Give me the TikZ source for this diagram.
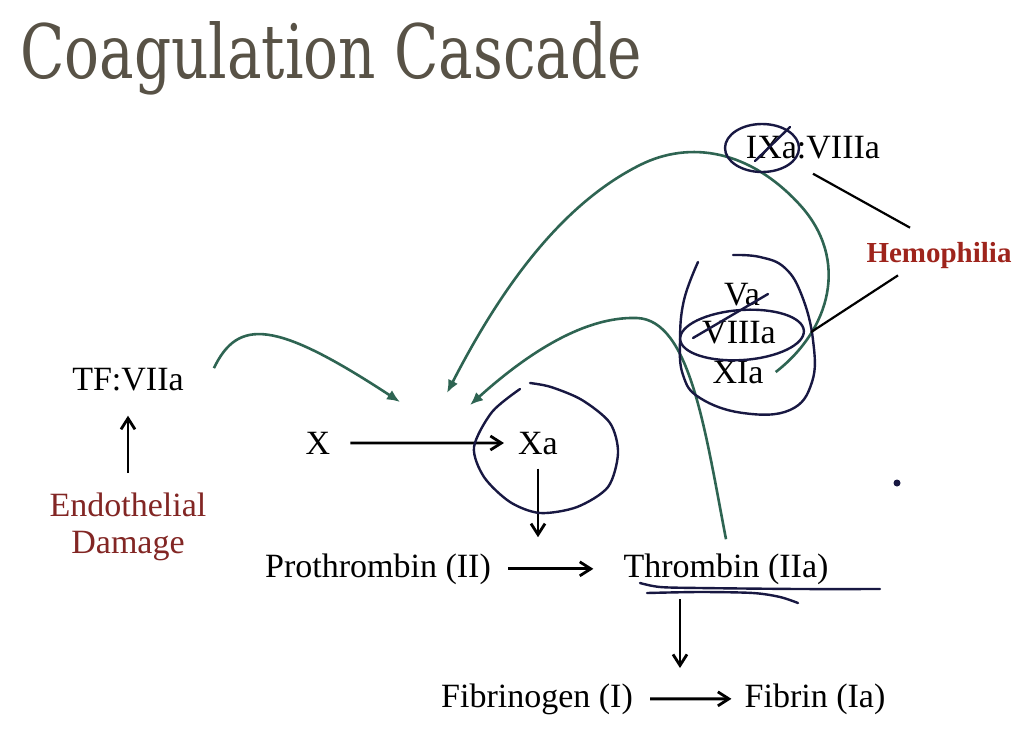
\documentclass[tikz,border=0pt]{standalone}
\usepackage{fontspec}
\setmainfont{Liberation Serif}
\newfontfamily\titlefont{DejaVu Serif Condensed}
\usetikzlibrary{arrows.meta,calc}
\definecolor{titlegray}{RGB}{88,82,70}
\definecolor{damage}{RGB}{130,38,36}
\definecolor{hemo}{RGB}{158,36,28}
\definecolor{loop}{RGB}{46,100,82}
\definecolor{pen}{RGB}{24,24,66}
\begin{document}
\begin{tikzpicture}[x=1pt,y=-1pt,
 lbl/.style={inner sep=0pt,anchor=base,font=\fontsize{34}{40}\selectfont},
 arr/.style={-{Straight Barb[length=11pt,width=14pt]},line width=2.8pt},
 fb/.style={-{Latex[length=13pt,width=11pt]},draw=loop,line width=2.6pt},
 ink/.style={draw=pen,line width=2.4pt,line cap=round}]
\fill[white] (0,0) rectangle (1022,729);
\useasboundingbox (0,0) rectangle (1022,729);
\node[anchor=base west,inner sep=0pt,font=\titlefont\fontsize{75}{80}\selectfont,text=titlegray] (title) at (20,78) {\scalebox{0.86}[1]{Coagulation Cascade}};
\node[lbl] (ixa) at (813,158) {IXa:VIIIa};
\node[lbl,font=\bfseries\fontsize{29}{34}\selectfont,text=hemo] (hemo) at (939,262) {Hemophilia};
\node[lbl] (va) at (742,305) {Va};
\node[lbl] (viiia) at (739,343) {VIIIa};
\node[lbl] (xia) at (738,383) {XIa};
\node[lbl] (tf) at (128,390) {TF:VIIa};
\node[lbl,anchor=north,align=center,text=damage,font=\fontsize{34}{37}\selectfont] (endo) at (128,493) {Endothelial\\Damage};
\node[lbl] (x) at (318,454) {X};
\node[lbl] (xa) at (538,454) {Xa};
\node[lbl] (pro) at (378,577) {Prothrombin (II)};
\node[lbl] (thr) at (726,577) {Thrombin (IIa)};
\node[lbl] (fbg) at (537,707) {Fibrinogen (I)};
\node[lbl] (fbn) at (815,707) {Fibrin (Ia)};
\coordinate (split) at (680,668);
\draw[arr,shorten <=20pt,shorten >=25pt] (endo) -- (tf);
\draw[arr,shorten <=20pt,shorten >=14pt] (x) -- (xa);
\draw[arr,shorten <=14pt,shorten >=16pt] (xa.south) -- (xa.south |- pro.north);
\draw[arr,shorten <=17pt,shorten >=30pt] (pro.east) -- (pro.east -| thr.west);
\draw[arr,shorten <=15pt] (split |- thr.south) -- (split);
\draw[arr,shorten <=17pt,shorten >=13pt] (fbg) -- (fbn);
\coordinate (in1) at (400,402);
\coordinate (in2) at (447,393);
\coordinate (in3) at (470,405);
\draw[fb] ([xshift=30pt,yshift=11pt]tf.east) .. controls (238,318) and (275,320) .. (in1);
\draw[fb] ([xshift=12pt]xia.east) .. controls (830,330) and (850,260) .. (800,205) .. controls (750,150) and (690,140) .. (640,165) .. controls (560,205) and (500,290) .. (in2);
\draw[fb] ([yshift=14pt]thr.north) .. controls (705,430) and (690,320) .. (637,318) .. controls (580,316) and (520,360) .. (in3);
\draw[ink] (762,148) ellipse [x radius=37,y radius=24];
\draw[ink] (755,161) -- (790,127);
\draw[ink,rotate around={4:(742,335)}] (742,335) ellipse [x radius=62,y radius=25];
\draw[ink] (693,338) -- (768,294);
\draw[ink] plot[smooth,tension=0.7] coordinates {(698,262) (684,300) (680,340) (683,375) (700,398) (743,413) (790,410) (812,382) (813,340) (802,296) (785,268) (760,257) (733,255)};
\draw[ink] plot[smooth] coordinates {(520,389) (492,412) (474,447) (484,477) (510,502) (540,513) (577,507) (608,487) (618,453) (610,423) (582,400) (551,387) (530,383)};
\draw[ink] plot[smooth] coordinates {(640,583) (660,587) (700,588) (800,589) (880,589)};
\draw[ink] plot[smooth] coordinates {(647,593) (700,592) (753,593) (780,597) (798,603)};
\draw[line width=2.2pt] ([yshift=-15pt]ixa.south) -- ([xshift=-29pt,yshift=14pt]hemo.north);
\draw[line width=2.2pt] ([xshift=-41pt,yshift=-7pt]hemo.south) -- ([xshift=35pt]viiia.east);
\fill[pen] (897,483) circle [radius=3.5];
\end{tikzpicture}
\end{document}
